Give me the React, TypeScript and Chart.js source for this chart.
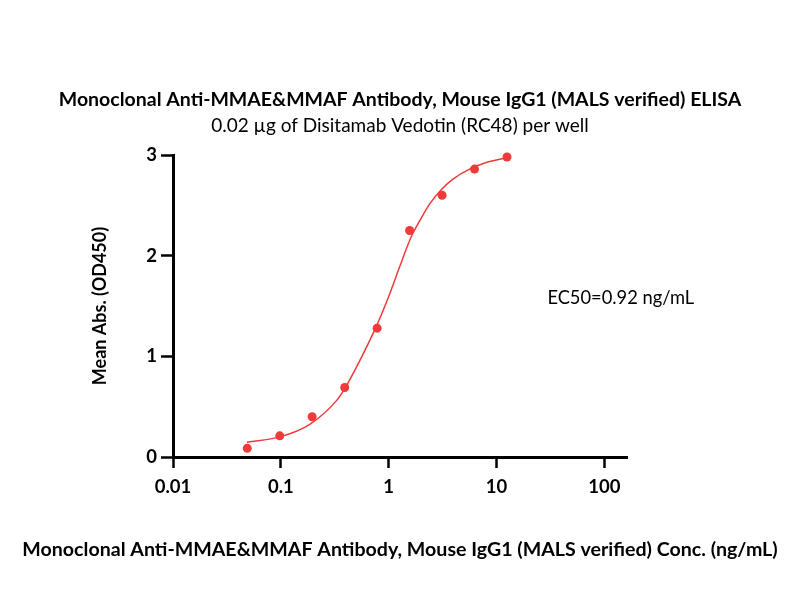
import React, { useEffect, useRef } from "react";
import { Chart, registerables } from "chart.js";

Chart.register(...registerables);

// Measured data points (concentration in ng/mL, mean absorbance at 450 nm)
const concentrations = [0.0488, 0.0977, 0.195, 0.391, 0.781, 1.5625, 3.125, 6.25, 12.5];
const meanAbs = [0.086, 0.21, 0.4, 0.69, 1.28, 2.25, 2.6, 2.86, 2.98];

// Fitted curve
const fitX = [0.0484, 0.098, 0.1855, 0.328, 0.392, 0.538, 0.769, 1.021, 1.264, 1.622, 1.936, 2.4, 3.1, 3.94, 5.62, 8.03, 12.3];
const fitY = [0.146, 0.2, 0.325, 0.56, 0.682, 0.955, 1.3, 1.62, 1.89, 2.19, 2.345, 2.515, 2.66, 2.76, 2.86, 2.925, 2.972];

const xTickValues = [0.01, 0.1, 1, 10, 100];
const xTickLabels = ["0.01", "0.1", "1", "10", "100"];
const yTickValues = [0, 1, 2, 3];

const titleText = "Monoclonal Anti-MMAE&MMAF Antibody, Mouse IgG1 (MALS verified) ELISA";
const subtitleText = "0.02 \u00b5g of Disitamab Vedotin (RC48) per well";
const xTitleText = "Monoclonal Anti-MMAE&MMAF Antibody, Mouse IgG1 (MALS verified) Conc. (ng/mL)";
const yTitleText = "Mean Abs. (OD450)";
const ec50Text = "EC50=0.92 ng/mL";
const ec50LabelPos = [29.6, 1.58];

const RED = "rgb(239,58,58)";
const FONT = "Lato, 'Open Sans', sans-serif";

const textPlugin = {
  id: "extraText",
  afterDraw(chart: any) {
    const { ctx, scales, chartArea } = chart;
    ctx.save();
    // EC50 annotation
    const x = scales.x.getPixelForValue(ec50LabelPos[0]);
    const y = scales.y.getPixelForValue(ec50LabelPos[1]);
    ctx.font = `18.3px ${FONT}`;
    ctx.fillStyle = "#000";
    ctx.textAlign = "left";
    ctx.textBaseline = "middle";
    ctx.fillText(ec50Text, x, y);
    // X axis title (wider than the axis itself)
    ctx.font = `bold 19.6px ${FONT}`;
    ctx.textAlign = "center";
    ctx.fillText(xTitleText, (chartArea.left + chartArea.right) / 2, chart.height - 63);
    ctx.restore();
  },
};

export default function App() {
  const canvasRef = useRef<HTMLCanvasElement | null>(null);

  useEffect(() => {
    if (!canvasRef.current) return;
    const chart = new Chart(canvasRef.current, {
      type: "scatter",
      data: {
        datasets: [
          {
            label: "fit",
            data: fitX.map((x, i) => ({ x, y: fitY[i] })),
            showLine: true,
            borderColor: RED,
            borderWidth: 1.5,
            pointRadius: 0,
            cubicInterpolationMode: "monotone",
            clip: false,
          } as any,
          {
            label: "data",
            data: concentrations.map((x, i) => ({ x, y: meanAbs[i] })),
            showLine: false,
            backgroundColor: RED,
            borderColor: RED,
            pointRadius: 4.5,
            pointBorderWidth: 0,
            clip: false,
          } as any,
        ],
      },
      options: {
        responsive: false,
        animation: false,
        layout: { padding: { left: 0, right: 0, top: 0, bottom: 0 } },
        plugins: {
          legend: { display: false },
          tooltip: { enabled: false },
          title: {
            display: true,
            text: titleText,
            color: "#000",
            font: { family: FONT, size: 19.5, weight: "bold", lineHeight: 1.2 },
            padding: { top: 88.3, bottom: 0 },
          },
          subtitle: {
            display: true,
            text: subtitleText,
            color: "#000",
            font: { family: FONT, size: 19, weight: "normal", lineHeight: 1.2 },
            padding: { top: 2.9, bottom: 17.6 },
          },
        },
        scales: {
          x: {
            type: "logarithmic",
            min: 0.01,
            max: 162,
            afterBuildTicks: (scale: any) => {
              scale.ticks = xTickValues.map((v) => ({ value: v }));
            },
            afterFit: (scale: any) => {
              scale.height = 156;
            },
            ticks: {
              autoSkip: false,
              maxRotation: 0,
              color: "#000",
              padding: 8.4,
              font: { family: FONT, size: 18.5, weight: "bold", lineHeight: 1.2 },
              callback: (value: any) => {
                const i = xTickValues.indexOf(Number(value));
                return i >= 0 ? xTickLabels[i] : "";
              },
            },
            grid: {
              display: true,
              drawOnChartArea: false,
              drawTicks: true,
              tickLength: 11,
              tickWidth: 2.5,
              tickColor: "#000",
            },
            border: { display: true, color: "#000", width: 3 },
            title: { display: false },
          },
          y: {
            type: "linear",
            min: 0,
            max: 3,
            afterBuildTicks: (scale: any) => {
              scale.ticks = yTickValues.map((v) => ({ value: v }));
            },
            afterFit: (scale: any) => {
              scale.width = 173;
            },
            ticks: {
              color: "#000",
              padding: 4,
              font: { family: FONT, size: 18.5, weight: "bold", lineHeight: 1.2 },
            },
            grid: {
              display: true,
              drawOnChartArea: false,
              drawTicks: true,
              tickLength: 12,
              tickWidth: 2.5,
              tickColor: "#000",
            },
            border: { display: true, color: "#000", width: 3 },
            title: {
              display: true,
              text: yTitleText,
              color: "#000",
              font: { family: FONT, size: 18, weight: "bold", lineHeight: 1.2 },
              padding: { top: 89.2, bottom: 0 },
            },
          },
          yRightSpace: {
            type: "linear",
            position: "right",
            display: true,
            min: 0,
            max: 3,
            afterFit: (scale: any) => {
              scale.width = 173;
            },
            ticks: { display: false },
            grid: { display: false, drawTicks: false },
            border: { display: false },
            title: { display: false },
          },
        },
      },
      plugins: [textPlugin],
    });
    return () => chart.destroy();
  }, []);

  return (
    <div style={{ position: "fixed", left: 0, top: 0, width: 800, height: 613, background: "#fff" }}>
      <canvas ref={canvasRef} width={800} height={613} style={{ display: "block" }} />
    </div>
  );
}
